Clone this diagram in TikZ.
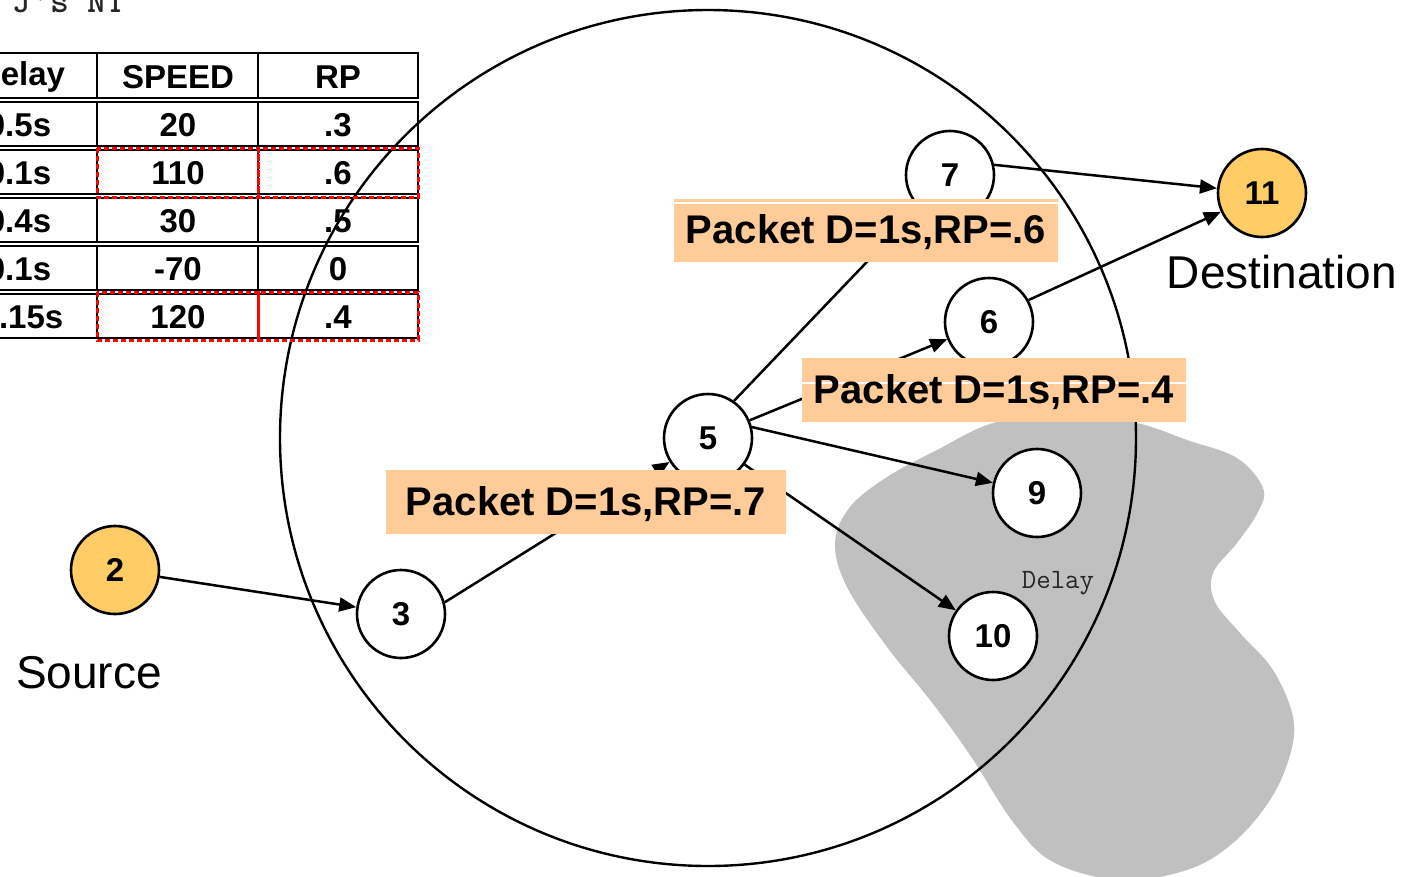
\documentclass[tikz,border=0pt]{standalone}
\usepackage{fontspec}
\setmainfont{Liberation Sans}
\usetikzlibrary{arrows.meta}
\definecolor{gold}{RGB}{255,204,102}
\definecolor{pkt}{RGB}{255,204,153}
\definecolor{blobgrey}{RGB}{192,192,192}
\begin{document}
\begin{tikzpicture}[x=1pt,y=-1pt,
  nd/.style={circle,draw,line width=2.6pt,fill=white,minimum size=88pt,inner sep=0pt,font=\fontsize{33}{33}\selectfont\bfseries},
  goldnd/.style={nd,fill=gold},
  edge/.style={line width=2.5pt,-{Triangle[length=17pt,width=14pt]}},
  pktbox/.style={fill=pkt,inner sep=0pt,minimum height=64pt},
  pkttext/.style={inner sep=0pt,font=\fontsize{40}{40}\selectfont\bfseries},
  gapline/.style={white,line width=1.6pt},
  cell/.style={line width=2.8pt},
  redbox/.style={draw=red,line width=3pt,dash pattern=on 5pt off 3pt},
  tabtext/.style={font=\fontsize{33}{33}\selectfont\bfseries,inner sep=0pt},
  bigtext/.style={font=\fontsize{46}{46}\selectfont,inner sep=0pt,anchor=base},
  monotext/.style={inner sep=0pt,text=black!85}
]
\useasboundingbox (0,0) rectangle (1410,876);
\clip (0,0) rectangle (1410,876);

% grey delay region
\fill[blobgrey] plot[smooth cycle, tension=0.6] coordinates {
 (993,423) (1065,412) (1137,423) (1187,440) (1237,458) (1263,488) (1258,512)
 (1237,543) (1213,573) (1215,602) (1240,633) (1273,670) (1293,717) (1290,755)
 (1270,800) (1233,843) (1187,870) (1120,880) (1053,862) (1013,822) (970,755)
 (930,700) (887,647) (847,587) (835,543) (850,507) (887,477) (937,450)};

% big ring
\node[draw,circle,line width=2.4pt,minimum size=856pt,inner sep=0pt] (ring) at (708,438) {};

% top-left caption (cut off)
\node[monotext,anchor=base west,font=\fontsize{36}{36}\ttfamily\bfseries] (cap) at (12,12) {J's NT};

% table
\foreach \t/\b in {53/98,102/146,150/194,198/242,246/290,294/338}{
  \draw[cell] (-20,\t) rectangle (418,\b);
  \draw[cell] (97,\t) -- (97,\b) (258,\t) -- (258,\b);
}
\node[tabtext] (h1) at (21,77) {Delay};
\node[tabtext] (h2) at (178,77) {SPEED};
\node[tabtext] (h3) at (338,77) {RP};
\node[tabtext] (a1) at (19,125) {0.5s};
\node[tabtext] (a2) at (178,125) {20};
\node[tabtext] (a3) at (338,125) {.3};
\node[tabtext] (b1) at (19,173) {0.1s};
\node[tabtext] (b2) at (178,173) {110};
\node[tabtext] (b3) at (338,173) {.6};
\node[tabtext] (c1) at (19,221) {0.4s};
\node[tabtext] (c2) at (178,221) {30};
\node[tabtext] (c3) at (338,221) {.5};
\node[tabtext] (d1) at (19,269) {0.1s};
\node[tabtext] (d2) at (178,269) {-70};
\node[tabtext] (d3) at (338,269) {0};
\node[tabtext] (e1) at (22,317) {0.15s};
\node[tabtext] (e2) at (178,317) {120};
\node[tabtext] (e3) at (338,317) {.4};
\draw[redbox] (97,148) rectangle (258,197);
\draw[redbox] (258,148) rectangle (418,197);
\draw[redbox] (97,292) rectangle (258,340);
\draw[redbox] (258,292) rectangle (418,340);

% nodes
\node[goldnd] (n2) at (115,570) {2};
\node[nd] (n3) at (401,614) {3};
\node[nd] (n5) at (708,438) {5};
\node[nd] (n7) at (950,175) {7};
\node[nd] (n6) at (989,322) {6};
\node[nd] (n9) at (1037,493) {9};
\node[nd] (n10) at (993,636) {10};
\node[goldnd] (n11) at (1262,193) {11};

% labels
\node[bigtext] (src) at (89,688) {Source};
\node[bigtext] (dst) at (1282,288) {Destination};
\node[monotext,font=\fontsize{28}{28}\ttfamily] (dl) at (1058,583) {Delay};

% edges
\draw[edge] (n2) -- (n3);
\draw[edge] (n3.15) -- (n5);
\draw[edge] (n5.55) -- (n7);
\draw[edge] (n5.23) -- (n6);
\draw[edge] (n5.14) -- (n9);
\draw[edge] (n5.-36) -- (n10);
\draw[edge] (n7.13) -- (n11);
\draw[edge] (n6.29) -- (n11);

% packet labels
\node[pktbox,minimum width=384pt,minimum height=63pt] (b6) at (866,230.5) {};
\draw[gapline] ([yshift=-4pt]b6.north west) -- ([yshift=-4pt]b6.north east);
\node[pkttext] (t6) at (866,232) {Packet D=1s,RP=.6};

\node[pktbox,minimum width=384pt] (b4) at (994,390) {};
\draw[gapline] ([yshift=-25pt]b4.north west) -- ([yshift=-25pt]b4.north east);
\node[pkttext] (t4) at (994,392) {Packet D=1s,RP=.4};

\node[pktbox,minimum width=400pt] (b7) at (586,502) {};
\node[pkttext] (t7) at (586,504) {Packet D=1s,RP=.7};
\end{tikzpicture}
\end{document}
